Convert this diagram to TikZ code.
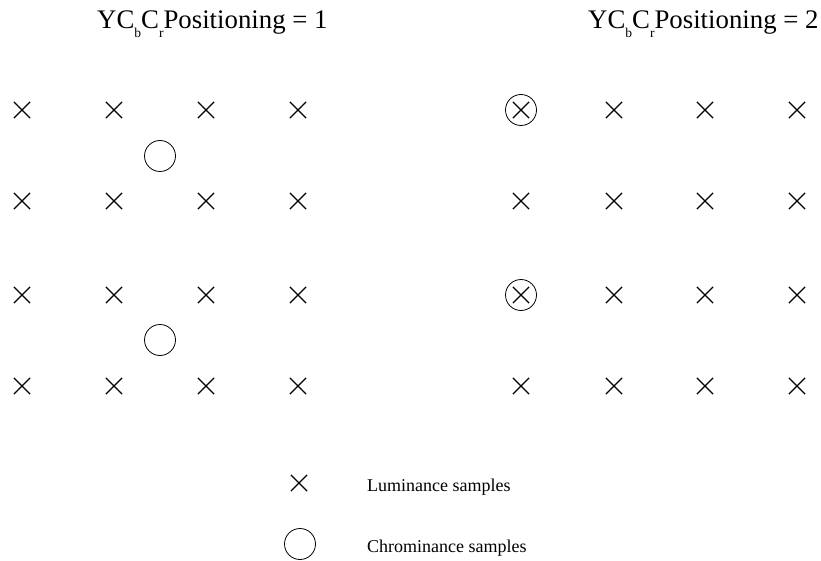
\documentclass[tikz,border=0pt]{standalone}
\usepackage{fontspec}
\setmainfont{Liberation Serif}
\usetikzlibrary{shapes.misc}
\tikzset{
  luma/.style={cross out, draw, line width=1.2pt, minimum size=15pt, inner sep=0pt},
  chroma/.style={circle, draw, line width=0.8pt, minimum size=31pt, inner sep=0pt},
  title/.style={anchor=base west, inner sep=0pt, font=\fontsize{26.8}{30}\selectfont},
  legend/.style={anchor=base west, inner sep=0pt, font=\fontsize{18}{21}\selectfont}
}
\newcommand{\lowsub}[1]{\raisebox{-9pt}{\fontsize{13.5}{14}\selectfont #1}}
\begin{document}
\begin{tikzpicture}[x=1pt,y=-1pt]
\useasboundingbox (0,0) rectangle (821,561);
% draw titles
\node[title] (title-a) at (97,29) {YC\lowsub{b}C\lowsub{r}Positioning = 1};
\node[title] (title-b) at (588,29) {YC\lowsub{b}C\lowsub{r}Positioning = 2};

% draw luminance samples
\foreach \x/\i in {22/1,114/2,206/3,298/4}
\foreach \y/\j in {110/1,201/2,295/3,386/4}
\node[luma] (luma-a-\i-\j) at (\x,\y) {};
\foreach \x/\i in {521/1,614/2,705/3,797/4}
\foreach \y/\j in {110/1,201/2,295/3,386/4}
\node[luma] (luma-b-\i-\j) at (\x,\y) {};

% draw chrominance samples
\node[chroma] (chroma-a-1) at (160,156) {};
\node[chroma] (chroma-a-2) at (160,340) {};
\node[chroma] (chroma-b-1) at (521,110) {};
\node[chroma] (chroma-b-2) at (521,295) {};

% draw legend
\node[luma] (key-luma) at (299,483) {};
\node[legend] (key-luma-text) at (367,491) {Luminance samples};
\node[chroma] (key-chroma) at (300,544) {};
\node[legend] (key-chroma-text) at (367,552) {Chrominance samples};
\end{tikzpicture}
\end{document}
